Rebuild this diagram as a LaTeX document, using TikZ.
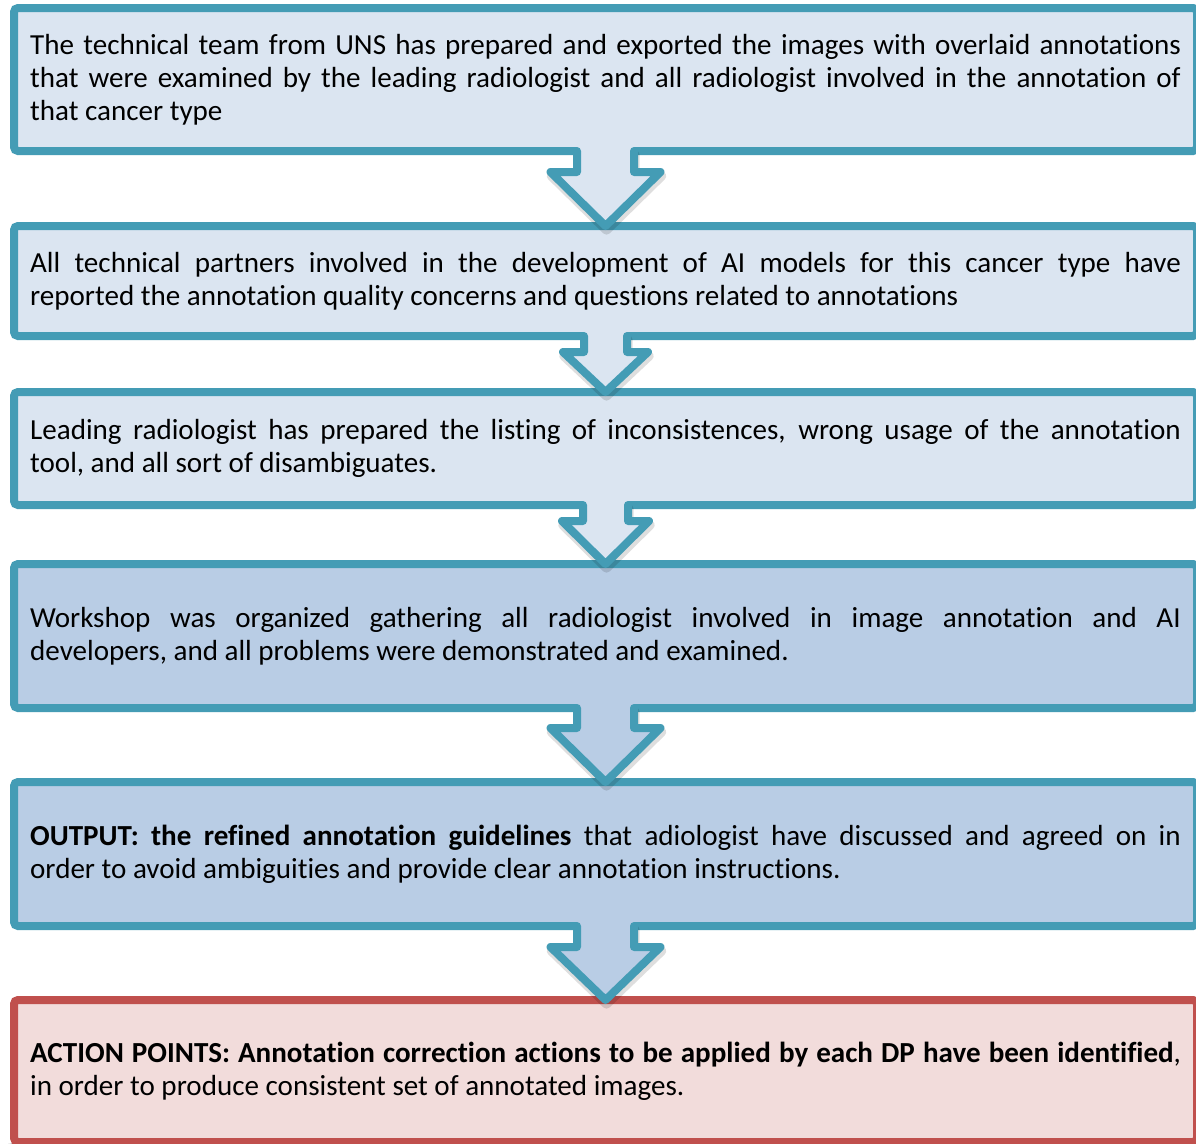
\documentclass[tikz,border=0pt]{standalone}
\usepackage{fontspec}
\setmainfont[RawFeature={-liga}]{Carlito}
\usetikzlibrary{calc}
\definecolor{frameblue}{HTML}{449CB5}
\definecolor{lightfill}{HTML}{DBE5F1}
\definecolor{darkfill}{HTML}{B9CDE5}
\definecolor{framered}{HTML}{C0504D}
\definecolor{redfill}{HTML}{F2DCDB}
\pgfdeclarelayer{bg}
\pgfsetlayers{bg,main}
\tikzset{
  box/.style={draw=frameblue, fill=lightfill, line width=6pt, rounded corners=3pt,
    outer sep=0pt, inner sep=0pt, minimum width=887.25pt, text width=863pt,
    align=justify, font=\fontsize{21.8pt}{24.6pt}\selectfont, text=black},
  darkbox/.style={box, fill=darkfill},
  redbox/.style={box, draw=framered, fill=redfill},
  arrowline/.style={draw=frameblue, line width=6pt, line join=round, line cap=round},
  shadowline/.style={draw=black, opacity=0.13, line width=7pt, line join=round, line cap=round}
}
\newcommand\boxshadow[1]{%
  \begin{pgfonlayer}{bg}
    \foreach \k/\o in {0/0.10,1.5/0.07,3/0.05}{
      \fill[black, opacity=\o, rounded corners=4pt]
        ($(#1.north west)+(-4-\k+1,-\k)$) rectangle ($(#1.south east)+(4+\k+1,8+\k)$);
    }
  \end{pgfonlayer}}
\newcommand\blockarrow[6]{%
  \draw[shadowline]
    ($(#1.south)+(-#3+1,4)$) -- ($(#1.south)+(-#3+1,#5+4)$) -- ($(#1.south)+(-#4+1,#5+4)$)
    -- ($(#2.north)+(1,4)$) -- ($(#1.south)+(#4+1,#5+4)$) -- ($(#1.south)+(#3+1,#5+4)$)
    -- ($(#1.south)+(#3+1,4)$);
  \fill[#6]
    ($(#1.south)+(-#3,-4.5)$) -- ($(#1.south)+(-#3,#5)$) -- ($(#1.south)+(-#4,#5)$)
    -- (#2.north) -- ($(#1.south)+(#4,#5)$) -- ($(#1.south)+(#3,#5)$)
    -- ($(#1.south)+(#3,-4.5)$) -- cycle;
  \draw[arrowline]
    ($(#1.south)+(-#3,0)$) -- ($(#1.south)+(-#3,#5)$) -- ($(#1.south)+(-#4,#5)$)
    -- (#2.north) -- ($(#1.south)+(#4,#5)$) -- ($(#1.south)+(#3,#5)$)
    -- ($(#1.south)+(#3,0)$);}
\begin{document}
\begin{tikzpicture}[x=0.75pt,y=-0.75pt]
\useasboundingbox (0,0) rectangle (1196,1143);
\fill[white] (0,0) rectangle (1196,1143);
\clip (0,0) rectangle (1196,1143);

\node[box, minimum height=107.25pt] (b1) at (605.5,79.5)
  {The technical team from UNS has prepared and exported the images with overlaid annotations\linebreak that were examined by the leading radiologist and all radiologist involved in the annotation of\linebreak that cancer type};
\node[box, minimum height=82.5pt] (b2) at (605.5,281)
  {All technical partners involved in the development of AI models for this cancer type have\linebreak reported the annotation quality concerns and questions related to annotations};
\node[box, minimum height=84.75pt] (b3) at (605.5,448.5)
  {Leading radiologist has prepared the listing of inconsistences, wrong usage of the annotation\linebreak tool, and all sort of disambiguates.};
\node[darkbox, minimum height=108pt] (b4) at (605.5,636)
  {Workshop was organized gathering all radiologist involved in image annotation and AI\linebreak developers, and all problems were demonstrated and examined.};
\node[darkbox, minimum height=108pt] (b5) at (605.5,854)
  {\textbf{OUTPUT: the refined annotation guidelines} that adiologist have discussed and agreed on in\linebreak order to avoid ambiguities and provide clear annotation instructions.};
\node[redbox, minimum height=106.5pt] (b6) at (605.5,1071)
  {\textbf{ACTION POINTS: Annotation correction actions to be applied by each DP have been identified},\linebreak in order to produce consistent set of annotated images.};

\boxshadow{b1}\boxshadow{b2}\boxshadow{b3}\boxshadow{b4}\boxshadow{b5}\boxshadow{b6}

\blockarrow{b1}{b2}{28.5}{55}{21}{lightfill}
\blockarrow{b2}{b3}{21.5}{42.5}{16}{lightfill}
\blockarrow{b3}{b4}{22.5}{43.5}{16}{lightfill}
\blockarrow{b4}{b5}{28.5}{55}{20}{darkfill}
\blockarrow{b5}{b6}{28.5}{55}{21}{darkfill}
\end{tikzpicture}
\end{document}
